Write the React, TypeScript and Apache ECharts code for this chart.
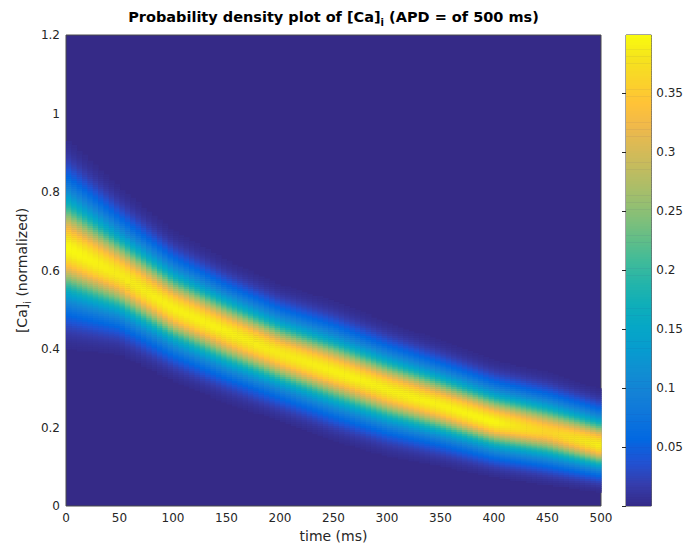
import React, { useEffect, useRef } from "react";
import * as echarts from "echarts";

// Ridge of the density band at these times (ms)
const timeKnots = [0, 50, 100, 150, 200, 250, 300, 350, 400, 450, 500];
// [Ca]i value where the density peaks
const ridgeCenter = [0.66, 0.59, 0.505, 0.445, 0.39, 0.345, 0.298, 0.258, 0.215, 0.19, 0.155];
// core spread of the band above / below the ridge
const spreadUp = [0.075, 0.06, 0.053, 0.049, 0.047, 0.048, 0.046, 0.044, 0.042, 0.041, 0.038];
const spreadDown = [0.07, 0.055, 0.05, 0.049, 0.047, 0.048, 0.046, 0.042, 0.038, 0.037, 0.032];
// peak density on the ridge
const ridgePeak = [0.398, 0.385, 0.39, 0.39, 0.385, 0.39, 0.39, 0.39, 0.395, 0.36, 0.39];
// height (fraction of peak) and half-width (in spreads) of the blue shoulder
const shoulderHeight = 0.2;
const shoulderWidth = 2.3;

const colorbarTickLabels = ["0.05", "0.1", "0.15", "0.2", "0.25", "0.3", "0.35"];
const colorMin = 0;
const colorMax = 0.399;

const parula = [
  "#352a87", "#353dad", "#2053d4", "#0268e1", "#0d75dc", "#1481d6", "#108ed2", "#079ccf",
  "#06a7c6", "#0faeb9", "#25b5a9", "#42bb98", "#65be86", "#87bf77", "#a5be6b", "#c0bc60",
  "#d9ba56", "#f1b94a", "#ffc337", "#fad32a", "#f5e41d", "#f9fb0e",
];

const tStep = 5;
const yStep = 0.005;

function knotValue(arr: number[], t: number) {
  for (let i = 0; i < timeKnots.length - 1; i++) {
    if (t <= timeKnots[i + 1]) {
      const f = (t - timeKnots[i]) / (timeKnots[i + 1] - timeKnots[i]);
      return arr[i] + (arr[i + 1] - arr[i]) * f;
    }
  }
  return arr[arr.length - 1];
}

function buildCells() {
  const cells: number[][] = [];
  for (let i = 0; i < 500 / tStep; i++) {
    const t = tStep / 2 + i * tStep;
    const c = knotValue(ridgeCenter, t);
    const su = knotValue(spreadUp, t);
    const sd = knotValue(spreadDown, t);
    const pk = knotValue(ridgePeak, t);
    for (let j = 0; j < 1.2 / yStep; j++) {
      const y = yStep / 2 + j * yStep;
      const d = y - c;
      const s = d > 0 ? su : sd;
      const x = d / s;
      const xs = x / shoulderWidth;
      const v = pk * ((1 - shoulderHeight) * Math.exp(-0.5 * x * x) + shoulderHeight * Math.exp(-0.5 * xs * xs * xs * xs));
      if (v > 0.003) cells.push([t, y, v]);
    }
  }
  return cells;
}

function buildColorbar() {
  const n = 200;
  const out: number[][] = [];
  for (let k = 0; k < n; k++) {
    const v = colorMin + ((k + 0.5) * (colorMax - colorMin)) / n;
    out.push([0.5, v, v]);
  }
  return out;
}

const FONT = "DejaVu Sans";
const TXT = "#262626";

export default function App() {
  const ref = useRef<HTMLDivElement>(null);
  useEffect(() => {
    if (!ref.current) return;
    document.body.style.margin = "0";
    const chart = echarts.init(ref.current, undefined, { renderer: "svg" });
    const cells = buildCells();
    const bar = buildColorbar();
    const cbStep = (colorMax - colorMin) / 200;

    chart.setOption({
      animation: false,
      backgroundColor: "#ffffff",
      grid: [
        {
          left: 66, top: 35, width: 535, height: 471,
          show: true, backgroundColor: "#352a87", borderColor: "#4a4a4a", borderWidth: 1,
        },
        {
          left: 626, top: 35, width: 26, height: 471,
          show: true, backgroundColor: "#352a87", borderColor: "#4a4a4a", borderWidth: 1,
        },
      ],
      xAxis: [
        {
          gridIndex: 0, type: "value", min: 0, max: 500, interval: 50,
          axisLine: { show: false }, axisTick: { show: false }, splitLine: { show: false },
          axisLabel: { color: TXT, fontFamily: FONT, fontSize: 12, margin: 6 },
        },
        { gridIndex: 1, type: "value", min: 0, max: 1, show: false },
      ],
      yAxis: [
        {
          gridIndex: 0, type: "value", min: 0, max: 1.2, interval: 0.2,
          axisLine: { show: false }, axisTick: { show: false }, splitLine: { show: false },
          axisLabel: { color: TXT, fontFamily: FONT, fontSize: 12, margin: 6 },
        },
        {
          gridIndex: 1, type: "value", min: colorMin, max: colorMax, interval: 0.05,
          position: "right",
          axisLine: { show: false }, splitLine: { show: false },
          axisTick: { show: true, inside: true, length: 4, lineStyle: { color: TXT } },
          axisLabel: {
            color: TXT, fontFamily: FONT, fontSize: 12, margin: 5, showMaxLabel: false,
            formatter: (v: number) => {
              const s = String(Math.round(v * 100) / 100);
              return colorbarTickLabels.indexOf(s) >= 0 ? s : "";
            },
          },
        },
      ],
      visualMap: {
        type: "continuous", show: false, min: colorMin, max: colorMax, dimension: 2,
        seriesIndex: [0, 1], inRange: { color: parula },
      },
      series: [
        {
          type: "custom", xAxisIndex: 0, yAxisIndex: 0, clip: true,
          data: cells, encode: { x: 0, y: 1 },
          renderItem: (params: any, api: any) => {
            const t = api.value(0), y = api.value(1);
            const p0 = api.coord([t - tStep / 2, y + yStep / 2]);
            const p1 = api.coord([t + tStep / 2, y - yStep / 2]);
            return {
              type: "rect",
              shape: { x: p0[0], y: p0[1], width: p1[0] - p0[0] + 0.6, height: p1[1] - p0[1] + 0.6 },
              style: { fill: api.visual("color") },
            };
          },
        },
        {
          type: "custom", xAxisIndex: 1, yAxisIndex: 1, clip: true,
          data: bar, encode: { x: 0, y: 1 },
          renderItem: (params: any, api: any) => {
            const v = api.value(1);
            const p0 = api.coord([0, v + cbStep / 2]);
            const p1 = api.coord([1, v - cbStep / 2]);
            return {
              type: "rect",
              shape: { x: p0[0], y: p0[1], width: p1[0] - p0[0], height: p1[1] - p0[1] + 0.6 },
              style: { fill: api.visual("color") },
            };
          },
        },
      ],
      graphic: [
        {
          type: "text", x: 333.5, y: 17, z: 10,
          style: {
            text: "{b|Probability density plot of [Ca]}{s|i}{b| (APD = of 500 ms)}",
            align: "center", verticalAlign: "middle",
            rich: {
              b: { fontFamily: FONT, fontWeight: "bold", fontSize: 14.5, lineHeight: 20, fill: "#000" },
              s: { fontFamily: FONT, fontWeight: "bold", fontSize: 10, lineHeight: 10, verticalAlign: "bottom", fill: "#000" },
            },
          },
        },
        {
          type: "text", x: 333.5, y: 536, z: 10,
          style: {
            text: "time (ms)", align: "center", verticalAlign: "middle",
            fontFamily: FONT, fontSize: 14, fill: TXT,
          },
        },
        {
          type: "text", x: 22, y: 270.5, rotation: Math.PI / 2, z: 10,
          style: {
            text: "{b|[Ca]}{s|i}{b| (normalized)}",
            align: "center", verticalAlign: "middle",
            rich: {
              b: { fontFamily: FONT, fontSize: 14, lineHeight: 20, fill: TXT },
              s: { fontFamily: FONT, fontSize: 10, lineHeight: 10, verticalAlign: "bottom", fill: TXT },
            },
          },
        },
      ],
    });
    return () => chart.dispose();
  }, []);
  return <div ref={ref} style={{ width: 686, height: 548 }} />;
}
